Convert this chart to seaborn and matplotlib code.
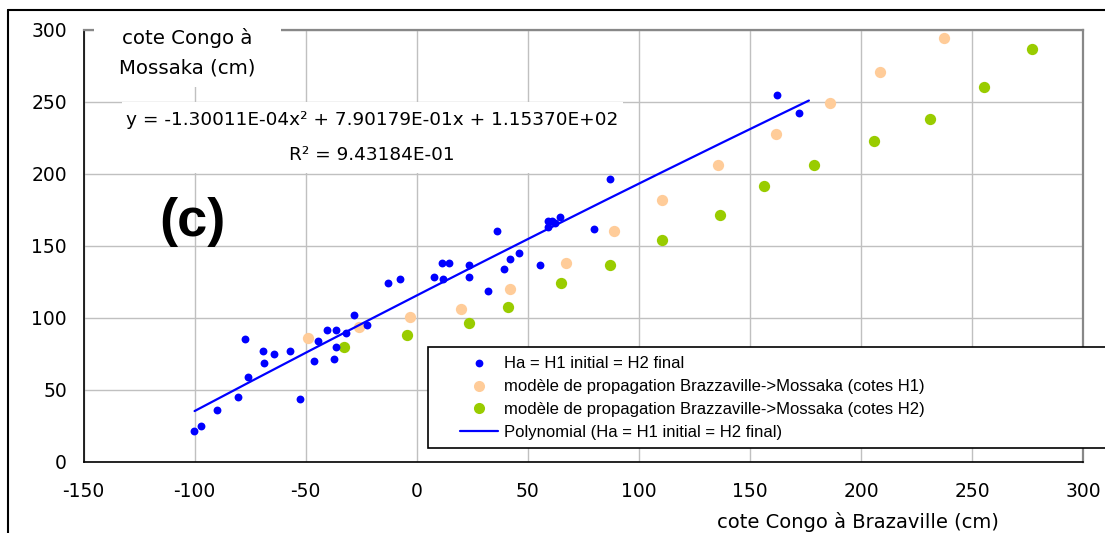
import numpy as np
import pandas as pd
import matplotlib
matplotlib.use("Agg")
import matplotlib.pyplot as plt
from matplotlib.patches import Rectangle
from matplotlib.lines import Line2D
import seaborn as sns

# ---------------- data ----------------
blue_x = [-100.2, -97.3, -90.1, -80.3, -75.8, -77.5, -69.4, -68.6, -64.1, -56.9,
          -52.4, -44.3, -46.1, -40.6, -36.2, -36.4, -37.1, -31.7, -28.1, -22.4,
          -12.8, -7.6, 7.9, 11.5, 14.3, 11.6, 23.4, 23.4, 32.2, 36.0,
          39.4, 42.1, 45.9, 55.6, 59.2, 61.0, 62.2, 59.2, 64.6, 79.9,
          87.1, 162.0, 171.9]
blue_y = [21.4, 24.5, 35.6, 45.0, 58.9, 85.3, 77.0, 68.6, 74.5, 77.0,
          43.6, 83.9, 70.0, 91.1, 91.1, 79.8, 71.4, 89.5, 102.0, 95.0,
          124.2, 127.0, 128.4, 138.1, 138.1, 127.0, 136.7, 128.4, 118.7, 160.1,
          134.0, 140.9, 145.1, 136.7, 167.3, 167.3, 165.9, 163.1, 170.1, 161.7,
          196.5, 254.9, 242.3]

h1_x = [-49.0, -26.2, -2.9, 19.8, 42.1, 67.3, 88.9, 110.5, 135.7, 161.8, 186.1, 208.6, 237.4]
h1_y = [85.6, 93.2, 100.6, 106.2, 120.1, 138.1, 160.4, 181.5, 206.2, 227.3, 249.3, 270.4, 294.0]

h2_x = [-32.6, -4.6, 23.3, 41.2, 64.7, 87.1, 110.5, 136.6, 156.4, 178.9, 205.9, 231.1, 255.5, 277.0]
h2_y = [79.8, 88.2, 96.5, 107.6, 124.2, 136.7, 153.7, 171.5, 191.2, 206.2, 222.9, 238.2, 260.4, 286.8]

# polynomial trend line shown on the chart: y = a x^2 + b x + c
poly_coefs = [-1.30011e-04, 7.90179e-01, 1.15370e+02]
trend_range = [-100.0, 176.5]

x_ticks = [-150, -100, -50, 0, 50, 100, 150, 200, 250, 300]
y_ticks = [0, 50, 100, 150, 200, 250, 300]

lab_blue = "Ha = H1 initial = H2 final"
lab_h1 = "modèle de propagation Brazzaville->Mossaka (cotes H1)"
lab_h2 = "modèle de propagation Brazzaville->Mossaka (cotes H2)"
lab_poly = "Polynomial (Ha = H1 initial = H2 final)"
eq_line1 = "y = -1.30011E-04x² + 7.90179E-01x + 1.15370E+02"
eq_line2 = "R² = 9.43184E-01"

# ---------------- figure ----------------
sns.set_theme(style="white")
plt.rcParams["font.family"] = ["DejaVu Sans"]
plt.rcParams["text.color"] = "black"
plt.rcParams["xtick.color"] = "black"
plt.rcParams["ytick.color"] = "black"

W, H = 1105, 533
fig = plt.figure(figsize=(W / 100, H / 100), dpi=100)
fig.patch.set_facecolor("white")

def fx(px):
    return px / W

def fy(py):
    return 1 - py / H

L, R, T, B = 83.5, 1083.3, 29.7, 461.5
ax = fig.add_axes([fx(L), fy(B), fx(R) - fx(L), fy(T) - fy(B)])
ax.set_facecolor("white")

df_blue = pd.DataFrame({"x": blue_x, "y": blue_y})
df_h1 = pd.DataFrame({"x": h1_x, "y": h1_y})
df_h2 = pd.DataFrame({"x": h2_x, "y": h2_y})

tx = np.linspace(trend_range[0], trend_range[1], 200)
df_trend = pd.DataFrame({"x": tx, "y": np.polyval(poly_coefs, tx)})

sns.scatterplot(data=df_h1, x="x", y="y", ax=ax, color="#FFCC99", s=66,
                linewidth=0, zorder=3)
sns.scatterplot(data=df_h2, x="x", y="y", ax=ax, color="#99CC00", s=66,
                linewidth=0, zorder=3)
sns.scatterplot(data=df_blue, x="x", y="y", ax=ax, color="#0000FF", s=32,
                linewidth=0, zorder=4)
sns.lineplot(data=df_trend, x="x", y="y", ax=ax, color="#0000FF", lw=1.6,
             zorder=5, sort=False)

ax.set_xlim(-150, 300)
ax.set_ylim(0, 300)
ax.set_xticks(x_ticks)
ax.set_yticks(y_ticks)
ax.set_xticklabels([str(v) for v in x_ticks])
ax.set_yticklabels([str(v) for v in y_ticks])
ax.set_xlabel("")
ax.set_ylabel("")
ax.grid(True, color="#c0c0c0", lw=1.0)
ax.set_axisbelow(True)

for side in ["top", "right"]:
    ax.spines[side].set_color("#888888")
    ax.spines[side].set_linewidth(1.6)
for side in ["left", "bottom"]:
    ax.spines[side].set_color("black")
    ax.spines[side].set_linewidth(1.2)

ax.tick_params(axis="both", direction="out", length=3, width=1, colors="black",
               labelcolor="black", labelsize=13.5)
ax.tick_params(axis="x", pad=12)
ax.tick_params(axis="y", pad=9)

# outer chart-area frame (partially cropped)
fig.add_artist(Line2D([fx(7.5), fx(7.5)], [fy(10), fy(540)], color="black", lw=1.5,
                      transform=fig.transFigure))
fig.add_artist(Line2D([fx(7.5), fx(1110)], [fy(10), fy(10)], color="black", lw=1.5,
                      transform=fig.transFigure))

# white boxes (axis title, equation)
fig.add_artist(Rectangle((fx(94), fy(87)), fx(281) - fx(94), fy(13) - fy(87),
                         transform=fig.transFigure, facecolor="white",
                         edgecolor="none", zorder=1))
fig.add_artist(Rectangle((fx(121.7), fy(173)), fx(623) - fx(121.7), fy(101.7) - fy(173),
                         transform=fig.transFigure, facecolor="white",
                         edgecolor="none", zorder=1))
# legend frame (extends beyond the right edge)
fig.add_artist(Rectangle((fx(428.3), fy(448.3)), fx(1120) - fx(428.3), fy(346.7) - fy(448.3),
                         transform=fig.transFigure, facecolor="white",
                         edgecolor="black", lw=1.2, zorder=1))

fig.text(fx(187.5), fy(37.7), "cote Congo à", ha="center", va="center",
         fontsize=14.2, color="black", zorder=3)
fig.text(fx(187.5), fy(68), "Mossaka (cm)", ha="center", va="center",
         fontsize=14.2, color="black", zorder=3)
fig.text(fx(372), fy(120), eq_line1, ha="center", va="center", fontsize=13.3,
         color="black", zorder=3)
fig.text(fx(372), fy(155), eq_line2, ha="center", va="center", fontsize=13.3,
         color="black", zorder=3)
fig.text(fx(192), fy(222), "(c)", ha="center", va="center", fontsize=39,
         fontweight="bold", color="black",
         family=["Liberation Sans", "DejaVu Sans"], zorder=3)
fig.text(fx(858), fy(522), "cote Congo à Brazaville (cm)", ha="center", va="center",
         fontsize=14, color="black", zorder=3)

handles = [
    Line2D([], [], ls="none", marker="o", markersize=5.6, color="#0000FF", mec="none"),
    Line2D([], [], ls="none", marker="o", markersize=8.0, color="#FFCC99", mec="none"),
    Line2D([], [], ls="none", marker="o", markersize=8.0, color="#99CC00", mec="none"),
    Line2D([], [], color="#0000FF", lw=1.6),
]
leg = fig.legend(handles, [lab_blue, lab_h1, lab_h2, lab_poly], loc="upper left",
                 bbox_to_anchor=(fx(460), fy(356.5)), bbox_transform=fig.transFigure,
                 frameon=False, borderpad=0, borderaxespad=0, handlelength=2.3,
                 handletextpad=0.35, labelspacing=0.47,
                 prop={"family": "Liberation Sans", "size": 12})
for t in leg.get_texts():
    t.set_color("black")
leg.set_zorder(5)

fig.savefig("out.png", dpi=100, facecolor="white")
